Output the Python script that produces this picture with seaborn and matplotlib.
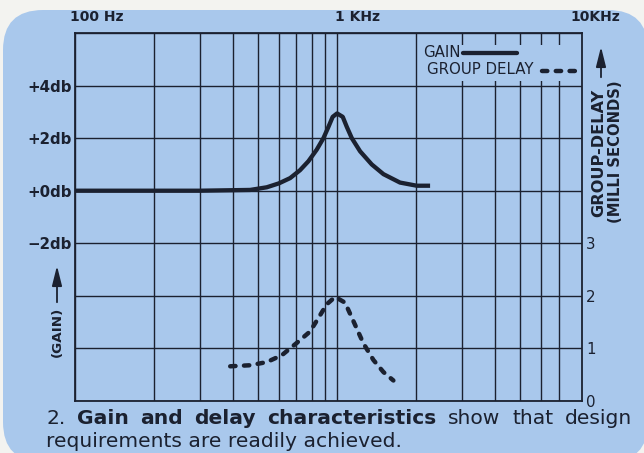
import matplotlib
matplotlib.use("Agg")
import matplotlib.pyplot as plt
import seaborn as sns
from matplotlib.patches import FancyBboxPatch, Rectangle, FancyArrowPatch
from matplotlib.lines import Line2D
from matplotlib.transforms import IdentityTransform, blended_transform_factory
from matplotlib.ticker import NullLocator

# ---- data -----------------------------------------------------------------
gain_freq_hz = [100, 300, 466, 539, 600, 662, 722, 777, 836, 887, 927, 962,
                1000, 1051, 1089, 1138, 1224, 1356, 1503, 1738, 2014, 2264]
gain_db = [0.0, 0.0, 0.03, 0.13, 0.28, 0.48, 0.78, 1.12, 1.56, 2.00, 2.43,
           2.81, 2.94, 2.81, 2.43, 2.00, 1.50, 1.00, 0.63, 0.31, 0.19, 0.19]

delay_freq_hz = [391, 466, 539, 615, 700, 788, 849, 913, 983, 1073, 1154,
                 1259, 1376, 1503, 1640]
delay_ms = [0.66, 0.68, 0.74, 0.87, 1.10, 1.32, 1.58, 1.84, 1.98, 1.87, 1.52,
            1.10, 0.78, 0.55, 0.39]

grid_freq_hz = [100, 200, 300, 400, 500, 600, 700, 800, 900, 1000,
                2000, 3000, 4000, 5000, 6000, 7000]
freq_labels = ["100 Hz", "1 KHz", "10KHz"]
gain_ticks = [-8, -6, -4, -2, 0, 2, 4, 6]
gain_tick_labels = ["", "", "", "\u22122db", "+0db", "+2db", "+4db", ""]
delay_ticks = [0, 1, 2, 3]
delay_tick_labels = ["0", "1", "2", "3"]

caption_line1 = [("2.", False), ("Gain", True), ("and", True), ("delay", True),
                 ("characteristics", True), ("show", False), ("that", False),
                 ("design", False)]
caption_line2 = "requirements are readily achieved."

# ---- style ----------------------------------------------------------------
sns.set_style("white")
plt.rcParams["font.family"] = ["DejaVu Sans"]

INK = "#1b2130"
PANEL = "#a9c8ec"
PAGE = "#f3f3f0"
DASH = (1.2, 1.9)

W, H = 644, 453
fig = plt.figure(figsize=(W / 100, H / 100), dpi=100)
fig.patch.set_facecolor(PAGE)

# rounded blue card behind everything
card = FancyBboxPatch((3, -9), 645, 452,
                      boxstyle="round,pad=0,rounding_size=40",
                      transform=IdentityTransform(), facecolor=PANEL,
                      edgecolor="none", zorder=0)
fig.add_artist(card)

ax = fig.add_axes([75 / W, (H - 401) / H, 507 / W, 368 / H])
ax.set_facecolor("none")
ax.set_xscale("log")
ax.set_xlim(100, 8600)
ax.set_ylim(-8, 6)

ax.set_xticks(grid_freq_hz)
ax.set_xticklabels([""] * len(grid_freq_hz))
ax.xaxis.set_minor_locator(NullLocator())
ax.set_yticks(gain_ticks)
ax.set_yticklabels(gain_tick_labels, fontsize=10.8, fontweight="bold", color=INK)
ax.tick_params(axis="both", length=0)
ax.tick_params(axis="y", pad=2)
ax.set_axisbelow(True)
ax.grid(True, color=INK, linewidth=1.0)
for s in ax.spines.values():
    s.set_color(INK)
    s.set_linewidth(1.3)
    s.set_visible(True)

# gain curve
sns.lineplot(x=gain_freq_hz, y=gain_db, ax=ax, color=INK, linewidth=3.1,
             sort=True, zorder=3)
for ln in ax.lines:
    ln.set_solid_capstyle("butt")
    ln.set_solid_joinstyle("round")

# delay axis on the right
ax2 = ax.twinx()
ax2.set_ylim(0, 7)
ax2.set_yticks(delay_ticks)
ax2.set_yticklabels(delay_tick_labels, fontsize=10.8, color=INK)
ax2.tick_params(axis="y", length=0, pad=3)
for s in ax2.spines.values():
    s.set_visible(False)
sns.lineplot(x=delay_freq_hz, y=delay_ms, ax=ax2, color=INK, linewidth=3.2,
             sort=True)
dl = ax2.lines[-1]
dl.set_dashes(DASH)
dl.set_dash_capstyle("round")
dl.set_dash_joinstyle("round")
ax2.set_xlim(100, 8600)
ax2.grid(False)

# frequency labels along the top edge
ax.text(100 * 0.955, 6.35, freq_labels[0], fontsize=10, fontweight="bold",
        color=INK, ha="left", va="bottom")
ax.text(1000 * 0.985, 6.35, freq_labels[1], fontsize=10, fontweight="bold",
        color=INK, ha="left", va="bottom")
ax.text(1.0 + 38 / 507, 6.35, freq_labels[2], fontsize=10, fontweight="bold",
        color=INK, ha="right", va="bottom",
        transform=blended_transform_factory(ax.transAxes, ax.transData))

# key in the upper right, on a patch that hides the grid behind it
key_bg = Rectangle((346 / 507, (401 - 81) / 368), 1 - 346 / 507 - 0.002,
                   36 / 368, transform=ax.transAxes, facecolor=PANEL,
                   edgecolor="none", zorder=1)
ax.add_patch(key_bg)
ax2.text(348 / 507, (401 - 53) / 368, "GAIN", transform=ax2.transAxes,
         fontsize=10.8, color=INK, ha="left", va="center")
ax2.text(352 / 507, (401 - 70) / 368, "GROUP DELAY", transform=ax2.transAxes,
         fontsize=10.8, color=INK, ha="left", va="center")
ax2.add_line(Line2D([388 / 507, 442 / 507], [(401 - 53) / 368] * 2,
                    transform=ax2.transAxes, color=INK, linewidth=3.1))
kd = Line2D([467 / 507, 500 / 507], [(401 - 71) / 368] * 2,
            transform=ax2.transAxes, color=INK, linewidth=3.2)
kd.set_dashes(DASH)
kd.set_dash_capstyle("round")
ax2.add_line(kd)


# axis titles with arrows
def fx(px):
    return px / W


def fy(py):
    return 1 - py / H


fig.text(fx(57), fy(332), "(GAIN)", rotation=90, fontsize=9.7,
         fontweight="bold", color=INK, ha="center", va="center")
fig.add_artist(FancyArrowPatch((fx(57), fy(305)), (fx(57), fy(263)),
                               transform=fig.transFigure,
                               arrowstyle="-|>,head_length=1.2,head_width=0.3",
                               mutation_scale=10, linewidth=1.3, color=INK))

fig.text(fx(599), fy(153), "GROUP-DELAY", rotation=90, fontsize=11.6,
         fontweight="bold", color=INK, ha="center", va="center")
fig.text(fx(615), fy(152), "(MILLI SECONDS)", rotation=90, fontsize=10.6,
         fontweight="bold", color=INK, ha="center", va="center")
fig.add_artist(FancyArrowPatch((fx(601), fy(80)), (fx(601), fy(44)),
                               transform=fig.transFigure,
                               arrowstyle="-|>,head_length=1.2,head_width=0.3",
                               mutation_scale=10, linewidth=1.3, color=INK))

# caption, first line justified across the card
fig.canvas.draw()
renderer = fig.canvas.get_renderer()
words = []
for w, bold in caption_line1:
    t = fig.text(0, fy(424), w, fontsize=14.6,
                 fontweight="bold" if bold else "normal",
                 color=INK, ha="left", va="baseline")
    words.append(t)
widths = [t.get_window_extent(renderer).width for t in words]
gap = (632 - 46 - sum(widths)) / (len(words) - 1)
xpos = 46
for t, wd in zip(words, widths):
    t.set_x(fx(xpos))
    xpos += wd + gap
fig.text(fx(46), fy(447), caption_line2, fontsize=14.6, color=INK,
         ha="left", va="baseline")

fig.savefig("out.png", dpi=100, facecolor=fig.get_facecolor())
